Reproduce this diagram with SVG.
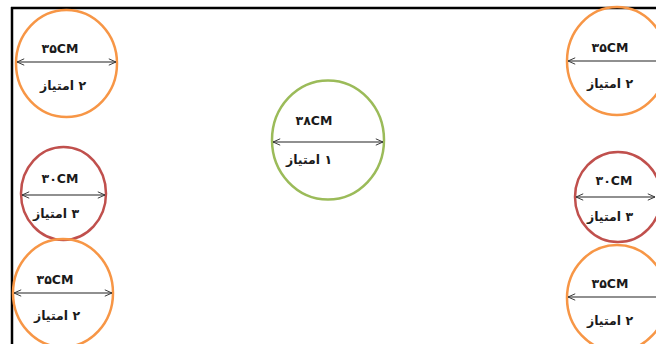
<svg xmlns="http://www.w3.org/2000/svg" width="656" height="344" viewBox="0 0 656 344">
<style>
.o{fill:none;stroke:#F79646;stroke-width:2.5}
.r{fill:none;stroke:#C0504D;stroke-width:2.5}
.g{fill:none;stroke:#9BBB59;stroke-width:2.5}
.t{font-family:"DejaVu Sans","Noto Sans",sans-serif;font-weight:bold;font-size:12.5px;fill:#1a1a1a;text-anchor:middle}
.a{direction:rtl;unicode-bidi:embed}
.ln{stroke:#222;stroke-width:1.1;fill:none}
</style>
<defs>
<marker id="ah" viewBox="0 0 10 10" refX="10" refY="5" markerWidth="8" markerHeight="8" markerUnits="userSpaceOnUse" orient="auto-start-reverse">
<path d="M1,1 L10,5 L1,9" fill="none" stroke="#333" stroke-width="1.2"/>
</marker>
</defs>
<rect width="656" height="344" fill="#fff"/>
<g id="frame">
<line x1="12" y1="7" x2="12" y2="344" stroke="#000" stroke-width="2.5"/>
<line x1="11" y1="8" x2="656" y2="8" stroke="#000" stroke-width="2.5"/>
</g>
<g id="n-tl">
<ellipse class="o" cx="66.5" cy="63.5" rx="50.5" ry="53.5"/>
<text class="t" x="60" y="53">۳۵CM</text>
<text class="t a" x="63" y="90">۲ امتیاز</text>
</g>
<g id="n-center">
<ellipse class="g" cx="328" cy="140" rx="56" ry="59.5"/>
<text class="t" x="314" y="125">۳۸CM</text>
<text class="t a" x="309" y="164">۱ امتیاز</text>
</g>
<g id="n-tr">
<ellipse class="o" cx="617" cy="61" rx="50" ry="54"/>
<text class="t" x="610" y="52">۳۵CM</text>
<text class="t a" x="610" y="88">۲ امتیاز</text>
</g>
<g id="n-ml">
<ellipse class="r" cx="63.5" cy="193.5" rx="42.5" ry="46.5"/>
<text class="t" x="60" y="183">۳۰CM</text>
<text class="t a" x="56" y="218">۳ امتیاز</text>
</g>
<g id="n-bl">
<ellipse class="o" cx="63" cy="293" rx="50" ry="54"/>
<text class="t" x="55" y="284">۳۵CM</text>
<text class="t a" x="57" y="320">۲ امتیاز</text>
</g>
<g id="n-mr">
<ellipse class="r" cx="618" cy="197" rx="43" ry="45"/>
<text class="t" x="614" y="185">۳۰CM</text>
<text class="t a" x="610" y="221">۳ امتیاز</text>
</g>
<g id="n-br">
<ellipse class="o" cx="617" cy="298" rx="50" ry="53"/>
<text class="t" x="610" y="288">۳۵CM</text>
<text class="t a" x="610" y="325">۲ امتیاز</text>
</g>
<g id="connectors">
<line class="ln" x1="17" y1="62" x2="116" y2="62" marker-start="url(#ah)" marker-end="url(#ah)"/>
<line class="ln" x1="273" y1="142" x2="383" y2="142" marker-start="url(#ah)" marker-end="url(#ah)"/>
<line class="ln" x1="568" y1="61" x2="656" y2="61" marker-start="url(#ah)"/>
<line class="ln" x1="22" y1="195" x2="105" y2="195" marker-start="url(#ah)" marker-end="url(#ah)"/>
<line class="ln" x1="14" y1="293" x2="112" y2="293" marker-start="url(#ah)" marker-end="url(#ah)"/>
<line class="ln" x1="576" y1="197" x2="655" y2="197" marker-start="url(#ah)" marker-end="url(#ah)"/>
<line class="ln" x1="568" y1="297" x2="656" y2="297" marker-start="url(#ah)"/>
</g>
</svg>
